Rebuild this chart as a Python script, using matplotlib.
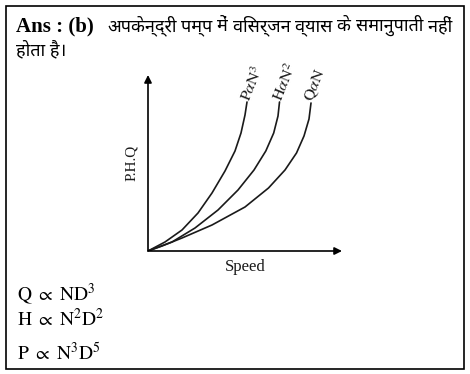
import matplotlib
matplotlib.use("Agg")
import matplotlib.pyplot as plt
from matplotlib import font_manager
from matplotlib.patches import Rectangle

plt.rcParams['mathtext.fontset'] = 'stix'

# curve points (speed, value), origin at the axes corner
p_speed = [0, 17, 34, 50, 64, 77, 87, 93, 97, 99]
p_value = [0, 9, 21, 38, 58, 80, 100, 118, 136, 149]
h_speed = [0, 24, 47, 70, 90, 106, 117.8, 125.7, 130, 131.5]
h_value = [0, 9, 23, 41, 61, 81, 100, 118, 135, 149]
q_speed = [0, 14, 34, 64, 97, 120.5, 137, 148.5, 156, 161, 163]
q_value = [0, 5, 13, 26, 44, 63, 81, 98, 115, 132, 148]
curve_labels = [r"$\mathrm{P}\alpha\mathrm{N}^3$", r"$\mathrm{H}\alpha\mathrm{N}^2$",
                r"$\mathrm{Q}\alpha\mathrm{N}$"]

hindi_words = ["अपकेन्द्री", "पम्प", "में", "विसर्जन", "व्यास", "के", "समानुपाती", "नहीं"]
hindi_line2 = "होता है।"
formulas = [r"$\mathrm{Q}\ \propto\ \mathrm{ND}^3$",
            r"$\mathrm{H}\ \propto\ \mathrm{N}^2\mathrm{D}^2$",
            r"$\mathrm{P}\ \propto\ \mathrm{N}^3\mathrm{D}^5$"]


def pick_font(names):
    avail = {f.name for f in font_manager.fontManager.ttflist}
    for n in names:
        if n in avail:
            return n
    return "DejaVu Sans"


hindi = pick_font(["Noto Sans Devanagari", "Hind", "Mukta", "Poppins", "Amiko"])

fig = plt.figure(figsize=(4.7, 3.74), dpi=100)
renderer = fig.canvas.get_renderer()

# overlay in pixel units for text and frame
bg = fig.add_axes([0, 0, 1, 1])
bg.set_xlim(0, 470)
bg.set_ylim(374, 0)
bg.axis("off")
bg.add_patch(Rectangle((6, 6), 458, 363, fill=False, lw=1.2, ec="black"))

bg.text(16, 31, "Ans : (b)", family="Liberation Serif", weight="bold",
        fontsize=15, va="baseline")

# first hindi line is justified between x=107 and x=452
size = 13
while True:
    texts = [bg.text(0, 31, w, family=[hindi, "DejaVu Sans"], fontsize=size,
                     va="baseline") for w in hindi_words]
    widths = [t.get_window_extent(renderer).width for t in texts]
    gap = (452 - 107 - sum(widths)) / (len(texts) - 1)
    if gap >= 3.5 or size <= 9:
        break
    for t in texts:
        t.remove()
    size -= 0.25
x = 107
for t, w in zip(texts, widths):
    t.set_x(x)
    x += w + gap
bg.text(16, 55, hindi_line2, family=[hindi, "DejaVu Sans"], fontsize=size,
        va="baseline")

for y, s in zip([300, 326, 360], formulas):
    bg.text(17, y, s, fontsize=14, va="baseline")

# the chart itself
ax = fig.add_axes([148 / 470, 123 / 374, 194 / 470, 176 / 374])
ax.set_xlim(0, 194)
ax.set_ylim(0, 176)
ax.axis("off")
ax.annotate("", xy=(194, 0), xytext=(0, 0),
            arrowprops=dict(arrowstyle="-|>", lw=1.2, color="black",
                            mutation_scale=11, shrinkA=0, shrinkB=0))
ax.annotate("", xy=(0, 176), xytext=(0, 0),
            arrowprops=dict(arrowstyle="-|>", lw=1.2, color="black",
                            mutation_scale=11, shrinkA=0, shrinkB=0))

for xs, ys, lab in zip([p_speed, h_speed, q_speed], [p_value, h_value, q_value],
                       curve_labels):
    ax.plot(xs, ys, color="#1a1a1a", lw=1.2, solid_capstyle="round",
            solid_joinstyle="round")
    ax.text(xs[-1] - 2, ys[-1] + 2, lab, rotation=68, rotation_mode="anchor",
            ha="left", va="center", fontsize=11.5, color="#1a1a1a")

ax.text(97, -8, "Speed", family="Liberation Serif", fontsize=12,
        ha="center", va="top", color="#1a1a1a")
ax.text(-10, 88, "P.H.Q", family="Liberation Serif", fontsize=11,
        rotation=90, ha="right", va="center", color="#1a1a1a")

fig.savefig("out.png", dpi=100)
